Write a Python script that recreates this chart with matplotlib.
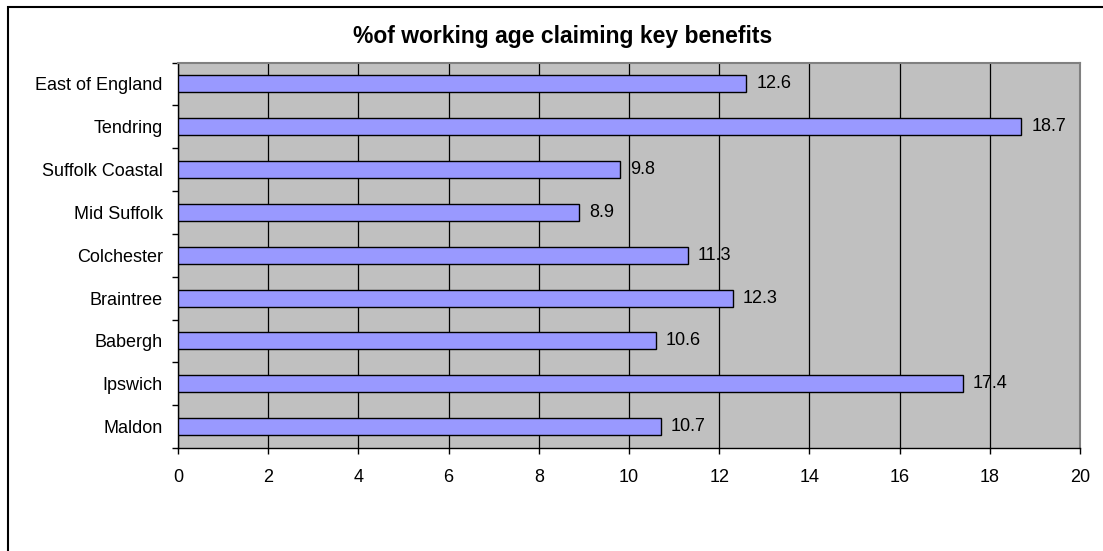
import matplotlib.pyplot as plt
from matplotlib.patches import Rectangle
import numpy as np

plt.rcParams['font.family'] = ['Liberation Sans', 'DejaVu Sans']

# data, top to bottom as in the chart
areas = ['East of England', 'Tendring', 'Suffolk Coastal', 'Mid Suffolk',
         'Colchester', 'Braintree', 'Babergh', 'Ipswich', 'Maldon']
pct = [12.6, 18.7, 9.8, 8.9, 11.3, 12.3, 10.6, 17.4, 10.7]
xticks = [0, 2, 4, 6, 8, 10, 12, 14, 16, 18, 20]

W, H = 1103, 551
fig = plt.figure(figsize=(W / 100, H / 100), dpi=100)
ax = fig.add_axes([178 / W, 1 - 448 / H, (1080 - 178) / W, (448 - 62.5) / H])

ax.set_facecolor('#C0C0C0')
y = np.arange(len(areas))[::-1]
ax.barh(y, pct, height=0.4, color='#9999FF', edgecolor='black', linewidth=1.0, zorder=3)
for yi, v in zip(y, pct):
    ax.text(v + 0.22, yi, f'{v:g}', va='center', ha='left', fontsize=13, zorder=4)

ax.set_xlim(0, 20)
ax.set_ylim(-0.5, len(areas) - 0.5)
ax.set_xticks(xticks)
ax.set_xticklabels([str(t) for t in xticks], fontsize=13)
ax.set_yticks(y)
ax.set_yticklabels(areas, fontsize=13)
ax.set_yticks(np.arange(-0.5, len(areas), 1.0), minor=True)
ax.tick_params(axis='y', which='major', length=0, pad=11)
ax.tick_params(axis='y', which='minor', length=4, width=1, color='black', direction='out')
ax.tick_params(axis='x', which='major', length=4, width=1, pad=11, direction='out')
ax.xaxis.grid(True, color='black', linewidth=0.9, zorder=1)
ax.set_axisbelow(True)

for s in ['top', 'right']:
    ax.spines[s].set_color('#808080')
    ax.spines[s].set_linewidth(1.5)
for s in ['left', 'bottom']:
    ax.spines[s].set_color('black')
    ax.spines[s].set_linewidth(1.0)

fig.text(563 / W, 1 - 37 / H, '%of working age claiming key benefits',
         ha='center', va='center', fontsize=16.5, fontweight='bold')

# chart frame (runs past the right and bottom of the image)
fig.patches.append(Rectangle((8 / W, -0.1), 1.2, 1 - 7 / H + 0.1, transform=fig.transFigure,
                             fill=False, edgecolor='black', linewidth=1.5))

fig.savefig('out.png', dpi=100)
